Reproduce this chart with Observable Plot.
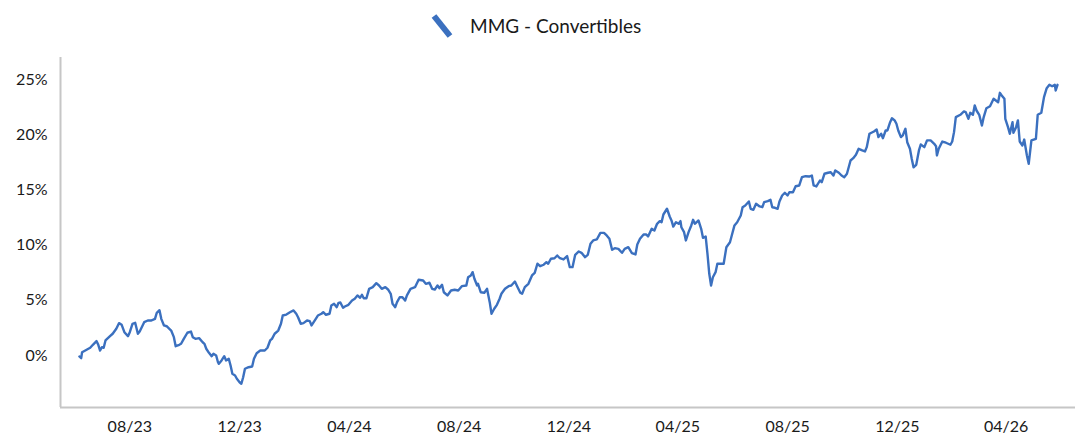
<!DOCTYPE html>
<html><head><meta charset="utf-8">
<script src="https://cdn.jsdelivr.net/npm/d3@7"></script>
<script src="https://cdn.jsdelivr.net/npm/@observablehq/plot@0.6"></script>
<style>
body{margin:0;background:#fff;}
#wrap{width:1081px;height:435px;position:relative;font-family:Lato,"Liberation Sans",sans-serif;color:#1a1a1a;overflow:hidden;}
#legend{height:50px;position:relative;}
#legend svg{position:absolute;left:428px;top:11px;}
#legend span{position:absolute;left:470px;top:14px;font-size:19px;line-height:24px;white-space:nowrap;}
#chart svg{display:block;}
</style></head><body>
<div id="wrap">
  <div id="legend"><svg width="30" height="30"><line x1="6" y1="5" x2="22" y2="25" stroke="#3b70bf" stroke-width="6"/></svg><span id="legendText"></span></div>
  <div id="chart"></div>
</div>
<script>
const seriesName = "MMG - Convertibles";
const baseDate = "2023-08-01";
// days after baseDate
const dayOffset = [-56,-54,-53,-48,-44,-41,-37,-35,-33,-31,-29,-27,-22,-19,-15,-12,-9,-6,-2,0,3,6,9,11,16,20,24,28,30,33,35,38,41,44,46,49,51,55,57,60,64,68,70,73,77,81,83,85,88,91,93,96,98,99,102,105,107,110,112,114,117,119,122,124,126,128,132,136,138,141,145,150,153,156,158,161,165,168,170,174,178,182,185,187,190,193,197,200,202,206,209,213,215,218,222,224,227,230,232,234,237,239,243,247,250,253,256,258,260,263,266,270,274,277,280,284,287,290,292,295,297,300,303,306,308,312,317,321,326,329,333,336,339,342,344,347,349,353,357,361,365,369,374,376,379,381,383,386,387,390,394,397,400,402,405,408,411,413,417,421,424,428,431,434,436,439,443,447,450,453,456,460,463,465,468,472,475,478,482,486,489,492,495,499,502,506,509,512,515,519,523,527,530,533,536,539,543,547,550,554,558,562,564,567,571,574,576,580,583,586,589,591,593,597,600,602,604,607,610,612,613,616,618,621,624,626,628,632,635,637,640,642,644,646,648,651,653,656,660,663,667,669,672,675,679,681,684,688,690,693,696,700,703,705,709,712,714,717,720,722,725,728,731,733,737,740,744,747,751,755,758,760,763,767,769,772,776,779,782,784,788,791,794,797,801,804,807,810,814,817,819,822,827,830,832,835,837,840,842,845,847,850,852,854,857,859,862,864,867,869,871,874,877,879,883,886,890,894,896,897,899,903,907,912,914,916,918,923,927,929,932,934,937,939,941,944,947,949,952,956,960,965,967,969,972,973,976,978,981,982,985,987,989,992,994,997,999,1002,1007,1009,1013,1016,1019,1022,1025,1028,1029,1031];
// cumulative return, %
const returnPct = [-0.09,-0.24,0.30,0.52,0.70,0.97,1.30,0.97,0.45,0.75,0.70,1.36,1.75,1.97,2.42,2.93,2.78,2.11,1.75,2.11,2.87,2.96,1.97,2.17,3.02,3.17,3.17,3.32,3.87,4.10,3.32,2.72,2.65,2.42,2.26,1.66,0.84,0.97,1.06,1.51,2.06,2.17,1.66,1.51,1.57,1.20,1.06,0.61,0.24,-0.06,0.15,0,-0.61,-0.75,-0.45,-0.06,-0.45,-0.30,-0.91,-1.66,-1.81,-2.11,-2.42,-2.56,-1.97,-1.20,-1.06,-1.00,-0.30,0.21,0.45,0.45,0.70,1.36,1.51,1.97,2.26,2.87,3.62,3.71,3.92,4.08,3.78,3.47,2.87,2.93,3.17,3.11,2.72,3.23,3.62,3.78,3.92,3.69,3.78,4.53,4.68,4.38,4.77,4.80,4.32,4.44,4.59,4.98,5.14,5.44,5.23,5.50,5.19,5.19,6.04,6.19,6.55,6.34,6.04,6.19,5.98,5.59,4.68,4.38,4.83,5.28,5.28,4.98,5.44,6.04,6.19,6.86,6.79,6.49,6.59,6.04,5.98,6.34,6.10,6.40,5.73,5.44,5.89,5.95,5.89,6.28,6.34,7.09,7.25,7.55,6.95,6.34,6.49,5.73,5.68,6.04,4.83,3.78,4.23,4.59,5.14,5.59,6.04,6.28,6.34,6.70,6.19,5.68,5.59,6.19,6.49,7.25,7.49,8.31,8.09,8.22,8.45,8.31,8.76,8.81,9.06,8.81,8.70,9.00,8.00,8.00,9.12,9.42,9.30,8.91,9.12,10.12,10.42,10.51,11.11,11.11,10.87,10.57,9.57,9.72,9.66,9.30,9.66,9.81,9.27,9.15,10.05,10.57,10.96,10.96,10.78,11.47,11.32,11.93,12.17,12.07,12.77,13.29,12.59,12.23,11.68,12.07,11.93,12.17,11.62,11.17,10.42,11.17,11.78,12.29,11.93,12.23,11.47,10.66,10.78,9.21,7.40,6.34,7.09,7.55,8.31,8.31,8.31,9.81,10.26,10.87,11.78,12.07,12.68,13.43,13.59,13.95,13.29,13.20,13.74,13.50,13.43,13.89,13.98,14.10,13.43,13.38,13.29,13.95,14.49,14.74,14.49,14.79,14.79,15.33,15.40,16.15,16.24,16.21,16.30,15.40,15.31,15.85,15.70,16.46,16.55,16.60,16.30,16.76,16.55,16.30,16.15,16.46,17.66,17.87,18.18,18.72,18.57,18.48,18.87,20.08,20.29,20.47,19.78,20.08,19.68,20.38,20.38,21.13,21.49,21.29,20.99,20.38,19.78,19.93,20.53,19.32,18.72,17.82,17.05,17.27,18.57,19.11,18.87,19.48,19.48,19.17,18.96,18.12,18.72,19.38,19.27,19.09,19.38,20.23,21.59,21.80,22.10,22.04,21.44,21.98,21.80,22.64,22.19,21.80,20.83,21.59,22.40,22.58,23.25,22.94,23.79,23.55,23.25,21.44,20.68,20.08,21.13,20.17,20.68,21.29,19.38,19.02,19.56,18.12,17.36,19.48,19.63,21.80,21.98,23.40,24.21,24.52,24.39,24.52,24.00,24.52];
const xTickLabels = ["2023-08-01","2023-12-01","2024-04-01","2024-08-01","2024-12-01","2025-04-01","2025-08-01","2025-12-01","2026-04-01"];
const yTickValues = [0,5,10,15,20,25];
const xDomain = ["2023-05-16","2026-06-17"];
const yDomain = [-4.71, 26.99];

document.getElementById("legendText").textContent = seriesName;

const base = new Date(baseDate + "T00:00:00Z").getTime();
const data = dayOffset.map((d, i) => ({date: new Date(base + d * 864e5), value: returnPct[i]}));
const toDate = s => new Date(s + "T00:00:00Z");

const axisColor = "#c6c6c6";
const chart = Plot.plot({
  width: 1081,
  height: 385,
  marginLeft: 60,
  marginRight: 6,
  marginTop: 7,
  marginBottom: 28,
  style: {fontFamily: "Lato, 'Liberation Sans', sans-serif", background: "#fff", color: "#1a1a1a"},
  x: {type: "utc", domain: xDomain.map(toDate), label: null},
  y: {domain: yDomain, label: null},
  marks: [
    Plot.ruleY([yDomain[0]], {stroke: axisColor, strokeWidth: 2}),
    Plot.ruleX([toDate(xDomain[0])], {stroke: axisColor, strokeWidth: 2}),
    Plot.axisX({ticks: xTickLabels.map(toDate), tickFormat: d3.utcFormat("%m/%y"), tickSize: 0, tickPadding: 13, fontSize: 16, fill: "#1a1a1a", label: null}),
    Plot.axisY({ticks: yTickValues, tickFormat: d => d + "%", tickSize: 0, tickPadding: 13, fontSize: 16, fill: "#1a1a1a", label: null}),
    Plot.line(data, {x: "date", y: "value", stroke: "#3b70bf", strokeWidth: 2.4, strokeLinejoin: "round"})
  ]
});
document.getElementById("chart").appendChild(chart);
</script>
</body></html>
